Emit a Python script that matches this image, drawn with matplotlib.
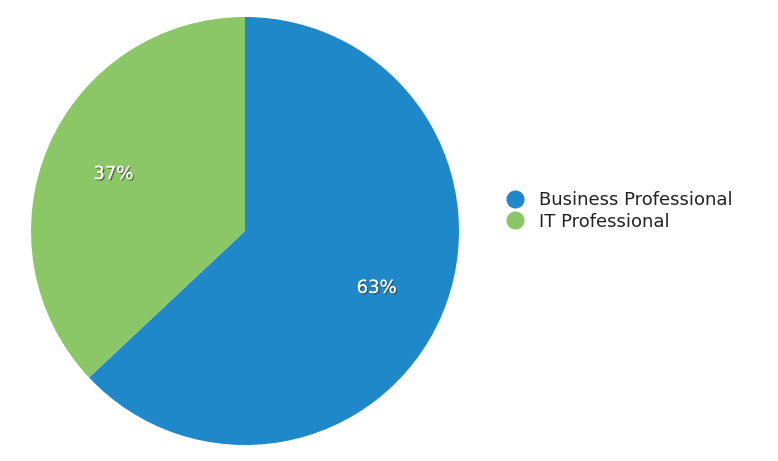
import matplotlib.pyplot as plt
import matplotlib.patheffects as pe
from matplotlib.lines import Line2D

# data
labels = ['Business Professional', 'IT Professional']
values = [63, 37]
colors = ['#1f88c9', '#8bc767']

fig = plt.figure(figsize=(7.78, 4.61), dpi=100)
ax = fig.add_axes([245/778 - 214/778, 16/461, 428/778, 428/461])

wedges, texts, autotexts = ax.pie(values, colors=colors, startangle=90, counterclock=False,
                                  radius=1, autopct='%d%%', pctdistance=0.67,
                                  wedgeprops=dict(linewidth=0))
for t in autotexts:
    t.set_color('white')
    t.set_fontsize(13)
    t.set_path_effects([pe.withSimplePatchShadow(offset=(1, -1), shadow_rgbFace='#333333', alpha=0.6),
                        pe.Normal()])
ax.set_xlim(-1, 1)
ax.set_ylim(-1, 1)
ax.set_aspect('equal')
ax.axis('off')

# legend
handles = [Line2D([0], [0], marker='o', linestyle='', markersize=12,
                  markerfacecolor=c, markeredgecolor=c) for c in colors]
leg = fig.legend(handles, labels, loc='center left', bbox_to_anchor=(497/778, 1 - 211/461),
                 frameon=False, fontsize=13, handletextpad=0.8, labelspacing=0.2,
                 handlelength=1.0, borderpad=0)
for t in leg.get_texts():
    t.set_color('#222222')

plt.savefig('out.png')
